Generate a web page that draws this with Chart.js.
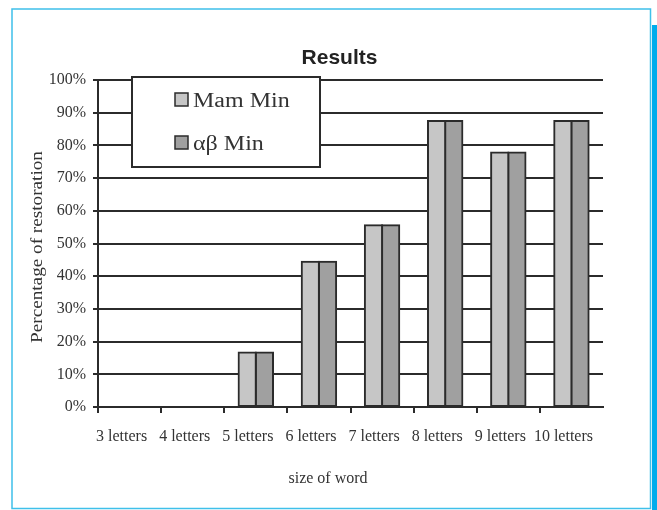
<!DOCTYPE html>
<html>
<head>
<meta charset="utf-8">
<script src="https://cdn.jsdelivr.net/npm/chart.js@4/dist/chart.umd.min.js"></script>
<style>
  html, body { margin: 0; padding: 0; background: #fff; }
  #wrap { width: 657px; height: 510px; position: relative; }
</style>
</head>
<body>
<div id="wrap"><canvas id="c" width="657" height="510"></canvas></div>
<script>
// Word sizes and restoration rates (%) for the two minimisation methods
const categories = ['3 letters', '4 letters', '5 letters', '6 letters', '7 letters', '8 letters', '9 letters', '10 letters'];
const mamMin = [0, 0, 16.7, 44.4, 55.6, 87.5, 77.8, 87.5];
const alphaBetaMin = [0, 0, 16.7, 44.4, 55.6, 87.5, 77.8, 87.5];
const seriesNames = ['Mam Min', 'αβ Min'];
const chartTitle = 'Results';
const xTitle = 'size of word';
const yTitle = 'Percentage of restoration';

const INK = '#2b2b2b';
const TEXT = '#333333';
const SERIF = '"Liberation Serif", "Times New Roman", "DejaVu Serif", serif';
const FILLS = ['#c6c6c6', '#a0a0a0'];

// Frame, titles and the boxed legend drawn over the chart
const decor = {
  id: 'decor',
  afterDraw(chart) {
    const ctx = chart.ctx;
    ctx.save();

    // page frame and side bar
    ctx.strokeStyle = '#3fc0ea';
    ctx.lineWidth = 1.5;
    ctx.strokeRect(12, 9, 638.5, 499.5);
    ctx.fillStyle = '#00acec';
    ctx.fillRect(652, 25, 5, 485);

    // chart title
    ctx.fillStyle = '#222';
    ctx.font = 'bold 21px "Liberation Sans", Arial, sans-serif';
    ctx.textAlign = 'center';
    ctx.textBaseline = 'alphabetic';
    ctx.fillText(chartTitle, 339.5, 64);

    // x axis title
    ctx.fillStyle = TEXT;
    ctx.font = '16px ' + SERIF;
    ctx.fillText(xTitle, 328, 483);

    // y axis title (rotated, slightly widened type)
    ctx.save();
    ctx.translate(38, 247);
    ctx.rotate(-Math.PI / 2);
    ctx.scale(1.2, 1);
    ctx.textBaseline = 'middle';
    ctx.fillText(yTitle, 0, 0);
    ctx.restore();

    // legend box
    const bx = 132, by = 77, bw = 188, bh = 90;
    ctx.fillStyle = '#fff';
    ctx.fillRect(bx, by, bw, bh);
    ctx.strokeStyle = INK;
    ctx.lineWidth = 2;
    ctx.strokeRect(bx, by, bw, bh);

    const rows = [107, 150];
    chart.data.datasets.forEach((ds, i) => {
      const base = rows[i];
      ctx.fillStyle = ds.backgroundColor;
      ctx.fillRect(175, base - 14, 13, 13);
      ctx.strokeStyle = INK;
      ctx.lineWidth = 1.5;
      ctx.strokeRect(175, base - 14, 13, 13);

      ctx.save();
      ctx.translate(193, base);
      ctx.scale(1.2, 1);
      ctx.fillStyle = TEXT;
      ctx.font = '20px ' + SERIF;
      ctx.textAlign = 'left';
      ctx.textBaseline = 'alphabetic';
      ctx.fillText(ds.label, 0, 0);
      ctx.restore();
    });

    ctx.restore();
  }
};

new Chart(document.getElementById('c'), {
  type: 'bar',
  data: {
    labels: categories,
    datasets: [
      { label: seriesNames[0], data: mamMin, backgroundColor: FILLS[0], borderColor: INK, borderWidth: 2, borderSkipped: false, inflateAmount: 1 },
      { label: seriesNames[1], data: alphaBetaMin, backgroundColor: FILLS[1], borderColor: INK, borderWidth: 2, borderSkipped: false, inflateAmount: 1 }
    ]
  },
  options: {
    responsive: false,
    animation: false,
    devicePixelRatio: 1,
    layout: { padding: { left: 20, right: 54, top: 80, bottom: 0 } },
    datasets: { bar: { categoryPercentage: 0.545, barPercentage: 1 } },
    plugins: {
      legend: { display: false },
      title: { display: false },
      tooltip: { enabled: false }
    },
    scales: {
      x: {
        grid: {
          offset: true,
          drawOnChartArea: false,
          drawTicks: true,
          tickLength: 6,
          lineWidth: 2,
          color: (c) => (c.type === 'tick' ? INK : 'rgba(0,0,0,0)')
        },
        border: { color: INK, width: 2 },
        ticks: {
          font: { family: SERIF, size: 16 },
          color: TEXT,
          padding: 14,
          labelOffset: -8,
          maxRotation: 0,
          autoSkip: false
        },
        afterFit(scale) { scale.height = 103; }
      },
      y: {
        min: 0,
        max: 100,
        grid: { color: INK, lineWidth: 2, tickLength: 5 },
        border: { color: INK, width: 2 },
        ticks: {
          stepSize: 10,
          callback: (v) => v + '%',
          font: { family: SERIF, size: 16 },
          color: TEXT,
          padding: 7
        },
        afterFit(scale) { scale.width = 78; }
      }
    }
  },
  plugins: [decor]
});
</script>
</body>
</html>
